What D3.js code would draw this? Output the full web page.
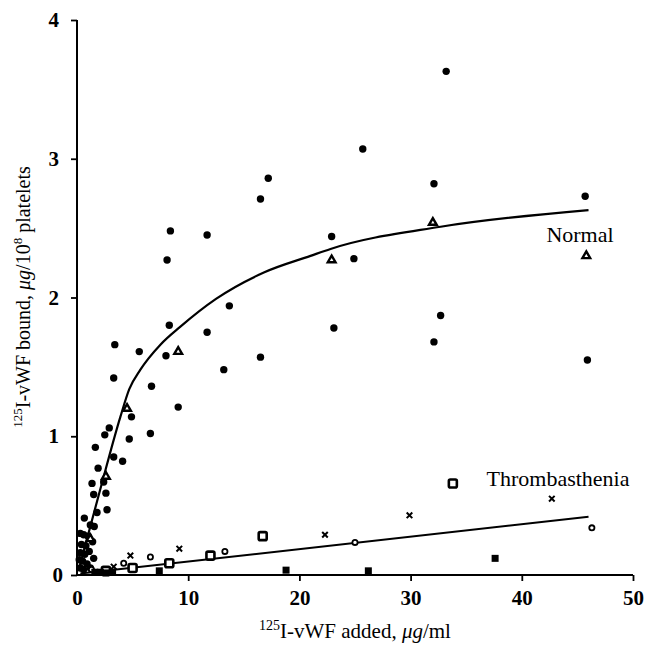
<!DOCTYPE html>
<html lang="en">
<head>
<meta charset="UTF-8">
<title>vWF binding</title>
<script src="https://cdn.jsdelivr.net/npm/d3@7"></script>
<style>
  body { margin: 0; background: #fff; }
  svg { display: block; }
</style>
</head>
<body>
<svg></svg>
<script>
// Normal platelets, filled circles (x = ug/ml added, y = ug/10^8 platelets bound)
let normalDotX = [33.2, 25.7, 17.2, 16.5, 32.1, 45.7, 11.7, 22.9, 24.9, 13.7, 11.7, 23.1, 32.7, 32.1, 16.5, 13.2, 45.9,
  8.4, 8.1, 8.3, 8.0, 9.1,
  3.4, 5.6, 3.3, 6.7, 4.9, 2.9, 2.5, 4.7, 6.6, 1.65, 3.3, 4.1, 1.9, 2.4, 1.35,
  1.5, 2.6, 2.7, 1.8, 0.66, 1.2, 1.55,
  0.3, 0.6, 1.0, 0.4, 0.8, 1.4, 0.3, 0.7, 1.1, 0.5, 0.9, 0.3, 1.5, 0.2, 1.2, 0.6];
let normalDotY = [3.63, 3.07, 2.86, 2.71, 2.82, 2.73, 2.45, 2.44, 2.28, 1.94, 1.75, 1.78, 1.87, 1.68, 1.57, 1.48, 1.55,
  2.48, 2.27, 1.80, 1.58, 1.21,
  1.66, 1.61, 1.42, 1.36, 1.14, 1.06, 1.01, 0.98, 1.02, 0.92, 0.85, 0.82, 0.77, 0.67, 0.66,
  0.58, 0.59, 0.47, 0.45, 0.41, 0.36, 0.35,
  0.30, 0.29, 0.28, 0.22, 0.21, 0.24, 0.16, 0.15, 0.17, 0.10, 0.08, 0.05, 0.12, 0.11, 0.05, 0.04];

// Normal platelets, open triangles
let normalTriX = [22.9, 32.0, 45.8, 9.1, 4.5, 2.6, 1.2];
let normalTriY = [2.27, 2.54, 2.30, 1.61, 1.20, 0.71, 0.26];

// Thrombasthenia
let thrSqX = [2.6, 5.0, 8.3, 12.0, 16.7, 33.8];
let thrSqY = [0.03, 0.05, 0.085, 0.14, 0.28, 0.66];
let thrCircX = [1.3, 4.2, 6.6, 13.3, 25.0, 46.3];
let thrCircY = [0.04, 0.085, 0.13, 0.17, 0.235, 0.34];
let thrCrossX = [3.3, 4.8, 9.2, 22.3, 29.9, 42.7];
let thrCrossY = [0.06, 0.14, 0.19, 0.29, 0.43, 0.55];
let thrFillSqX = [1.6, 2.1, 2.6, 3.2, 7.4, 18.8, 26.2, 37.6];
let thrFillSqY = [0.02, 0.02, 0.015, 0.02, 0.03, 0.035, 0.03, 0.12];

// fitted curves
let normalFitX = [0.2, 2.1, 3.9, 4.7, 5.7, 7.5, 9.3, 12.5, 16.8, 21.0, 22.8, 32.7, 46.0];
let normalFitY = [0.05, 0.62, 1.14, 1.34, 1.48, 1.66, 1.79, 1.99, 2.18, 2.30, 2.35, 2.51, 2.63];
let thrFitX = [0.3, 46.0];
let thrFitY = [0.01, 0.42];

let xTicks = [0, 10, 20, 30, 40, 50];
let yTicks = [0, 1, 2, 3, 4];

let width = 650, height = 645;
let x = d3.scaleLinear().domain([0, 50]).range([77, 633]);
let y = d3.scaleLinear().domain([0, 4]).range([575, 20]);

let svg = d3.select("svg").attr("width", width).attr("height", height)
  .style("font-family", "'Liberation Serif', 'Times New Roman', serif");

let zip = (xs, ys) => xs.map((v, i) => [v, ys[i]]);

// axes
let xAxis = svg.append("g").attr("transform", "translate(0," + y(0) + ")")
  .call(d3.axisBottom(x).tickValues(xTicks).tickSize(6).tickPadding(9).tickFormat(d3.format("d")));
let yAxis = svg.append("g").attr("transform", "translate(" + x(0) + ",0)")
  .call(d3.axisLeft(y).tickValues(yTicks).tickSize(6).tickPadding(12).tickFormat(d3.format("d")));

[xAxis, yAxis].forEach(a => {
  a.select(".domain").attr("stroke", "#000").attr("stroke-width", 2).attr("d",
    a === xAxis ? "M" + x(0) + ",0H" + x(50) : "M0," + y(0) + "V" + y(4));
  a.selectAll(".tick line").attr("stroke", "#000").attr("stroke-width", 1.8);
  a.selectAll(".tick text").attr("fill", "#000").attr("font-size", 21).attr("font-weight", "bold")
    .attr("font-family", "'Liberation Serif', serif");
});
// the y "0" sits a little closer to the axis
yAxis.selectAll(".tick").filter(d => d === 0).select("text").attr("x", -14);
xAxis.selectAll(".tick").filter(d => d === 0).select("line").remove();

// fitted lines
let line = d3.line().x(d => x(d[0])).y(d => y(d[1]));
svg.append("path").datum(zip(normalFitX, normalFitY))
  .attr("d", line.curve(d3.curveMonotoneX))
  .attr("fill", "none").attr("stroke", "#000").attr("stroke-width", 2.2);
svg.append("path").datum(zip(thrFitX, thrFitY))
  .attr("d", d3.line().x(d => x(d[0])).y(d => y(d[1])))
  .attr("fill", "none").attr("stroke", "#000").attr("stroke-width", 2);

// markers
svg.append("g").selectAll("circle").data(zip(normalDotX, normalDotY)).enter()
  .append("circle").attr("cx", d => x(d[0])).attr("cy", d => y(d[1])).attr("r", 3.7).attr("fill", "#000");

svg.append("g").selectAll("path").data(zip(normalTriX, normalTriY)).enter()
  .append("path")
  .attr("d", d3.symbol().type(d3.symbolTriangle).size(26))
  .attr("transform", d => "translate(" + x(d[0]) + "," + y(d[1]) + ")")
  .attr("fill", "#fff").attr("stroke", "#000").attr("stroke-width", 2.4);

svg.append("g").selectAll("rect").data(zip(thrSqX, thrSqY)).enter()
  .append("rect").attr("x", d => x(d[0]) - 4).attr("y", d => y(d[1]) - 4)
  .attr("width", 8).attr("height", 8).attr("rx", 1.5)
  .attr("fill", "#fff").attr("stroke", "#000").attr("stroke-width", 2.6);

svg.append("g").selectAll("circle").data(zip(thrCircX, thrCircY)).enter()
  .append("circle").attr("cx", d => x(d[0])).attr("cy", d => y(d[1])).attr("r", 2.6)
  .attr("fill", "#fff").attr("stroke", "#000").attr("stroke-width", 1.8);

svg.append("g").selectAll("path").data(zip(thrCrossX, thrCrossY)).enter()
  .append("path")
  .attr("d", d => { let cx = x(d[0]), cy = y(d[1]), s = 2.8;
    return "M" + (cx - s) + "," + (cy - s) + "L" + (cx + s) + "," + (cy + s) +
      "M" + (cx + s) + "," + (cy - s) + "L" + (cx - s) + "," + (cy + s); })
  .attr("stroke", "#000").attr("stroke-width", 2);

svg.append("g").selectAll("rect").data(zip(thrFillSqX, thrFillSqY)).enter()
  .append("rect").attr("x", d => x(d[0]) - 3.5).attr("y", d => y(d[1]) - 3.5)
  .attr("width", 7).attr("height", 7).attr("fill", "#000");

// series labels
svg.append("text").attr("x", 580).attr("y", 242).attr("text-anchor", "middle")
  .attr("font-size", 22).text("Normal");
svg.append("text").attr("x", 558).attr("y", 486).attr("text-anchor", "middle")
  .attr("font-size", 22).text("Thrombasthenia");

// axis titles
let xt = svg.append("text").attr("x", 355).attr("y", 638).attr("text-anchor", "middle").attr("font-size", 21);
xt.append("tspan").attr("font-size", 14).attr("dy", -8).text("125");
xt.append("tspan").attr("dy", 8).text("I-vWF added, ");
xt.append("tspan").attr("font-style", "italic").text("\u03bcg");
xt.append("tspan").text("/ml");

let yt = svg.append("text").attr("transform", "translate(30,297) rotate(-90)")
  .attr("text-anchor", "middle").attr("font-size", 20);
yt.append("tspan").attr("font-size", 13).attr("dy", -8).text("125");
yt.append("tspan").attr("dy", 8).text("I-vWF bound, ");
yt.append("tspan").attr("font-style", "italic").text("\u03bcg");
yt.append("tspan").text("/10");
yt.append("tspan").attr("font-size", 13).attr("dy", -8).text("8");
yt.append("tspan").attr("dy", 8).text(" platelets");
</script>
</body>
</html>
